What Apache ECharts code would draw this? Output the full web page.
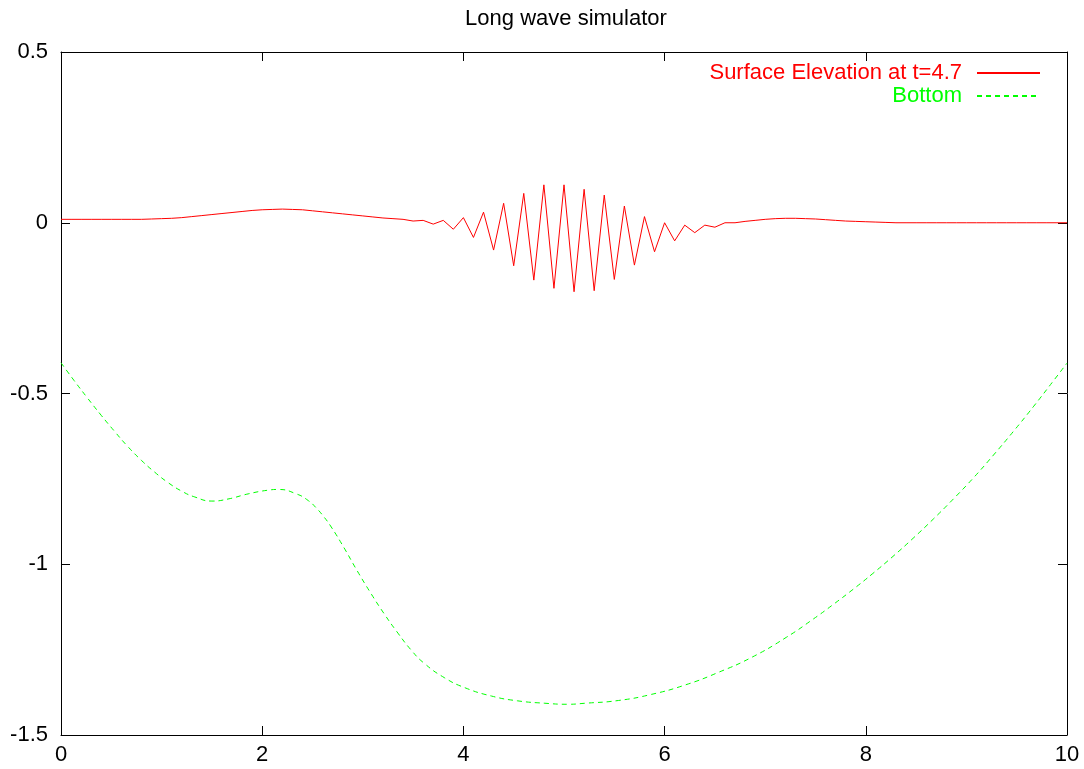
<!DOCTYPE html>
<html>
<head>
<meta charset="utf-8">
<script src="https://cdn.jsdelivr.net/npm/echarts@6/dist/echarts.min.js"></script>
<style>
  html, body { margin: 0; padding: 0; background: #fff; }
  #main { width: 1084px; height: 769px; }
</style>
</head>
<body>
<div id="main"></div>
<script>
// surface elevation, sampled every 0.1 from x=0 to x=10
var surfaceStep = 0.1
var surface = [
  0.010, 0.010, 0.010, 0.010, 0.010, 0.010, 0.010, 0.010, 0.010, 0.011,
  0.012, 0.013, 0.015, 0.018, 0.021, 0.024, 0.027, 0.030, 0.033, 0.036,
  0.038, 0.039, 0.040, 0.039, 0.038, 0.035, 0.032, 0.029, 0.026, 0.023,
  0.020, 0.017, 0.014, 0.012, 0.010, 0.005, 0.007, -0.004, 0.007, -0.019,
  0.015, -0.043, 0.031, -0.080, 0.057, -0.126, 0.086, -0.168, 0.111, -0.192,
  0.111, -0.202, 0.098, -0.199, 0.081, -0.166, 0.049, -0.124, 0.018, -0.085,
  0.000, -0.053, -0.007, -0.029, -0.007, -0.013, 0.000, 0.000, 0.004, 0.007,
  0.010, 0.012, 0.013, 0.013, 0.012, 0.011, 0.009, 0.007, 0.005, 0.004,
  0.003, 0.002, 0.001, 0.000, 0.000, 0.000, 0.000, 0.000, 0.000, 0.000,
  0.000, 0.000, 0.000, 0.000, 0.000, 0.000, 0.000, 0.000, 0.000, 0.000,
  0.000
]

// bottom profile, points
var bottomX = [
  0, 0.13, 0.26, 0.40, 0.53, 0.66, 0.80, 0.93, 1.06, 1.20,
  1.33, 1.50, 1.66, 1.86, 2.06, 2.16, 2.34, 2.46, 2.54, 2.61,
  2.68, 2.81, 2.94, 3.08, 3.21, 3.34, 3.48, 3.61, 3.81, 4.01,
  4.28, 4.54, 4.81, 5.04, 5.21, 5.54, 5.87, 6.21, 6.54, 6.87,
  7.21, 7.48, 7.68, 7.88, 8.07, 8.27, 8.47, 8.67, 8.87, 9.07,
  9.27, 9.47, 9.67, 9.87, 10
]
var bottomY = [
  -0.410, -0.462, -0.512, -0.564, -0.610, -0.654, -0.696, -0.730, -0.760, -0.786,
  -0.803, -0.815, -0.809, -0.794, -0.783, -0.781, -0.794, -0.814, -0.836, -0.860,
  -0.888, -0.950, -1.017, -1.085, -1.144, -1.198, -1.251, -1.290, -1.332, -1.361,
  -1.386, -1.400, -1.407, -1.410, -1.407, -1.399, -1.381, -1.353, -1.316, -1.272,
  -1.214, -1.160, -1.117, -1.072, -1.027, -0.977, -0.924, -0.868, -0.809, -0.747,
  -0.680, -0.610, -0.537, -0.461, -0.411
]

var xTicks = [0, 2, 4, 6, 8, 10]
var yTicks = [-1.5, -1, -0.5, 0, 0.5]

var surfaceLabel = 'Surface Elevation at t=4.7'
var bottomLabel = 'Bottom'

function stepPairs(vals, step){
  var out = []
  for (var i = 0; i < vals.length; i++) {
    out.push([+(i * step).toFixed(2), vals[i]])
  }
  return out
}

function zipPairs(xs, ys){
  var out = []
  for (var i = 0; i < xs.length; i++) out.push([xs[i], ys[i]])
  return out
}

var font = 'Liberation Sans, Arial, Helvetica, sans-serif'
var axisLine = { show: true, onZero: false, lineStyle: { color: '#000', width: 1 } }
var tick = { show: true, inside: true, length: 9, lineStyle: { color: '#000', width: 1 } }

var myChart = echarts.init(document.getElementById('main'))
var option = {
  animation: false,
  backgroundColor: '#fff',
  title: {
    text: 'Long wave simulator',
    left: 561, textAlign: 'center', top: 3,
    textStyle: { fontFamily: font, fontSize: 22, fontWeight: 'normal', color: '#000' }
  },
  legend: {
    orient: 'vertical',
    right: 43, top: 62, padding: 0,
    align: 'right',
    itemWidth: 63, itemHeight: 14, itemGap: 1,
    itemStyle: { opacity: 0 },
    textStyle: { fontFamily: font, fontSize: 22, padding: [0, 10, 0, 0] },
    data: [
      { name: surfaceLabel, textStyle: { color: '#ff0000' } },
      { name: bottomLabel, textStyle: { color: '#00ff00' } }
    ]
  },
  grid: { left: 61, right: 17, top: 52, bottom: 34 },
  xAxis: [
    {
      type: 'value', min: 0, max: 10, interval: 2,
      axisLine: axisLine, axisTick: tick, splitLine: { show: false },
      axisLabel: {
        color: '#000', fontFamily: font, fontSize: 22, margin: 9,
        formatter: function(v){ return xTicks.indexOf(v) >= 0 ? String(v) : '' }
      }
    },
    {
      type: 'value', position: 'top', min: 0, max: 10, interval: 2,
      axisLine: axisLine, axisTick: tick, splitLine: { show: false },
      axisLabel: { show: false }
    }
  ],
  yAxis: [
    {
      type: 'value', min: -1.5, max: 0.5, interval: 0.5,
      axisLine: axisLine, axisTick: tick, splitLine: { show: false },
      axisLabel: {
        color: '#000', fontFamily: font, fontSize: 22, margin: 13,
        formatter: function(v){ return yTicks.indexOf(v) >= 0 ? String(v) : '' }
      }
    },
    {
      type: 'value', position: 'right', min: -1.5, max: 0.5, interval: 0.5,
      axisLine: axisLine, axisTick: tick, splitLine: { show: false },
      axisLabel: { show: false }
    }
  ],
  series: [
    {
      name: surfaceLabel, type: 'line',
      data: stepPairs(surface, surfaceStep),
      showSymbol: false, symbol: 'none',
      color: '#ff0000',
      lineStyle: { color: '#ff0000', width: 1 }
    },
    {
      name: bottomLabel, type: 'line',
      data: zipPairs(bottomX, bottomY),
      showSymbol: false, symbol: 'none', smooth: 0.5,
      color: '#00ff00',
      lineStyle: { color: '#00ff00', width: 1, type: [5, 4] }
    }
  ]
}
myChart.setOption(option)
</script>
</body>
</html>
